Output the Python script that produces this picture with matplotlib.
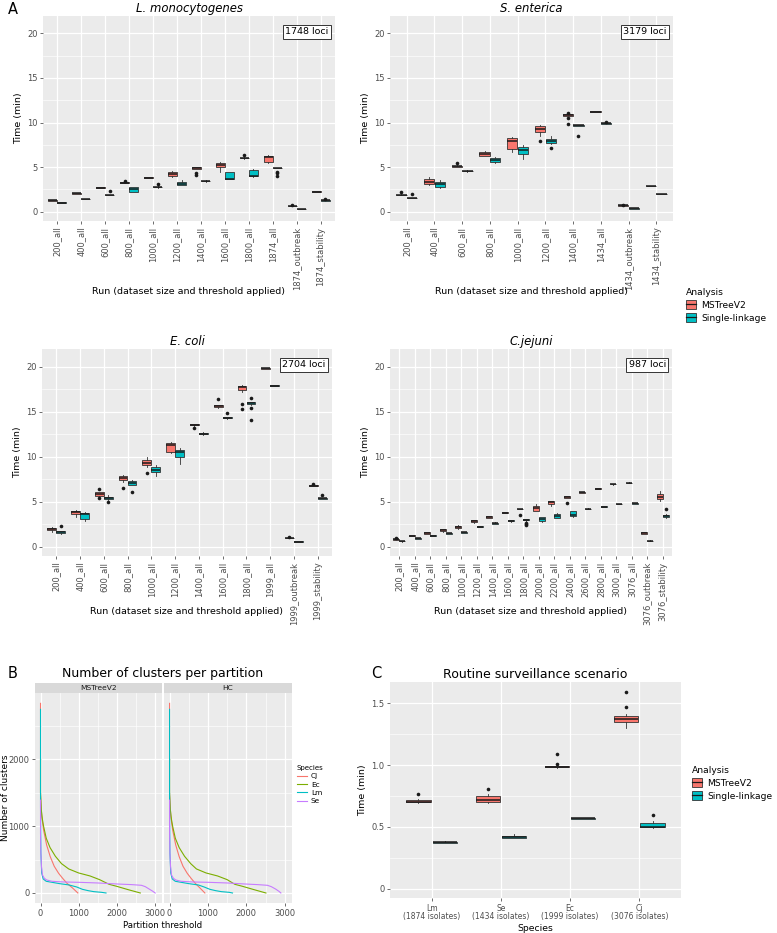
import numpy as np
import matplotlib.pyplot as plt
from matplotlib.patches import Patch
from matplotlib.lines import Line2D
from matplotlib.legend_handler import HandlerTuple

# ---- data ----
# box tuples are (whisker low, q1, median, q3, whisker high), times in minutes

lm_runs = ["200_all", "400_all", "600_all", "800_all", "1000_all", "1200_all", "1400_all",
           "1600_all", "1800_all", "1874_all", "1874_outbreak", "1874_stability"]
lm_mst = [(1.22, 1.23, 1.27, 1.31, 1.33), (2.0, 2.02, 2.06, 2.10, 2.12), (2.63, 2.65, 2.69, 2.73, 2.75),
          (3.18, 3.20, 3.25, 3.29, 3.31), (3.76, 3.77, 3.81, 3.85, 3.87), (3.85, 4.04, 4.22, 4.41, 4.60),
          (4.78, 4.82, 4.90, 4.96, 5.0), (4.49, 4.97, 5.23, 5.46, 5.55), (5.96, 5.98, 6.02, 6.06, 6.10),
          (5.45, 5.55, 6.15, 6.24, 6.30), (0.60, 0.61, 0.64, 0.67, 0.69), (2.20, 2.21, 2.24, 2.27, 2.29)]
lm_mst_out = [[], [], [], [3.42], [], [], [4.37, 4.15], [], [6.32], [], [0.76], []]
lm_sl = [(0.97, 0.98, 1.01, 1.04, 1.05), (1.38, 1.39, 1.42, 1.45, 1.47), (1.83, 1.84, 1.87, 1.90, 1.92),
         (2.20, 2.24, 2.54, 2.73, 2.78), (2.70, 2.73, 2.77, 2.82, 2.90), (2.95, 2.95, 3.14, 3.33, 3.55),
         (3.38, 3.40, 3.44, 3.48, 3.52), (3.63, 3.65, 3.70, 4.41, 4.45), (3.93, 3.95, 4.04, 4.67, 4.82),
         (4.86, 4.87, 4.90, 4.93, 4.95), (0.27, 0.28, 0.30, 0.33, 0.34), (1.23, 1.24, 1.27, 1.30, 1.32)]
lm_sl_out = [[], [], [2.32], [], [3.14], [], [], [], [], [4.5, 4.3, 4.05], [], [1.42]]

se_runs = ["200_all", "400_all", "600_all", "800_all", "1000_all", "1200_all", "1400_all",
           "1434_all", "1434_outbreak", "1434_stability"]
se_mst = [(1.82, 1.84, 1.87, 1.91, 1.93), (3.0, 3.07, 3.36, 3.63, 3.85), (5.0, 5.03, 5.08, 5.13, 5.18),
          (6.2, 6.28, 6.5, 6.69, 6.75), (6.65, 6.99, 7.93, 8.22, 8.4), (8.5, 8.97, 9.31, 9.6, 9.75),
          (10.7, 10.78, 10.84, 10.92, 11.0), (11.16, 11.17, 11.21, 11.25, 11.26),
          (0.66, 0.67, 0.71, 0.75, 0.76), (2.84, 2.85, 2.88, 2.91, 2.92)]
se_mst_out = [[2.24], [], [5.46], [], [], [7.96], [11.05, 10.55, 9.79], [], [0.8], []]
se_sl = [(1.48, 1.49, 1.53, 1.57, 1.58), (2.65, 2.73, 3.07, 3.36, 3.5), (4.5, 4.52, 4.56, 4.6, 4.64),
         (5.5, 5.57, 5.79, 6.06, 6.1), (5.87, 6.47, 6.88, 7.29, 7.45), (7.55, 7.74, 7.93, 8.15, 8.45),
         (9.62, 9.64, 9.68, 9.72, 9.74), (9.86, 9.87, 9.9, 9.93, 9.95),
         (0.33, 0.34, 0.37, 0.40, 0.41), (1.94, 1.95, 1.98, 2.01, 2.02)]
se_sl_out = [[1.94], [], [], [], [], [7.1], [8.49], [10.02], [], []]

ec_runs = ["200_all", "400_all", "600_all", "800_all", "1000_all", "1200_all", "1400_all",
           "1600_all", "1800_all", "1999_all", "1999_outbreak", "1999_stability"]
ec_mst = [(1.6, 1.84, 1.95, 2.1, 2.2), (3.26, 3.63, 3.82, 4.0, 4.1), (5.5, 5.66, 5.88, 6.03, 6.1),
          (7.2, 7.34, 7.57, 7.87, 7.95), (8.8, 9.03, 9.33, 9.63, 9.9), (10.4, 10.56, 11.27, 11.5, 11.65),
          (13.4, 13.45, 13.52, 13.58, 13.6), (15.45, 15.5, 15.62, 15.7, 15.75), (17.2, 17.34, 17.75, 17.83, 18.0),
          (19.77, 19.78, 19.81, 19.84, 19.85), (0.93, 0.94, 0.97, 1.0, 1.01), (6.74, 6.75, 6.78, 6.81, 6.82)]
ec_mst_out = [[], [], [6.4, 5.36], [6.55], [8.13], [], [13.15], [16.37], [15.8, 15.24], [], [1.09], [6.9]]
ec_sl = [(1.45, 1.55, 1.65, 1.7, 1.75), (2.8, 3.07, 3.63, 3.7, 3.86), (5.2, 5.28, 5.39, 5.5, 5.7),
         (6.8, 6.85, 7.08, 7.3, 7.4), (7.87, 8.28, 8.5, 8.88, 9.08), (9.18, 10.0, 10.45, 10.75, 11.0),
         (12.4, 12.47, 12.55, 12.62, 12.7), (14.22, 14.25, 14.31, 14.4, 14.45), (15.75, 15.84, 15.95, 16.03, 16.1),
         (17.83, 17.84, 17.87, 17.9, 17.91), (0.52, 0.53, 0.56, 0.59, 0.6), (5.32, 5.33, 5.36, 5.39, 5.4)]
ec_sl_out = [[2.28], [], [4.94], [6.07], [], [], [], [14.8], [16.55, 15.43, 14.04], [], [], [5.73]]

cj_runs = ["200_all", "400_all", "600_all", "800_all", "1000_all", "1200_all", "1400_all", "1600_all",
           "1800_all", "2000_all", "2200_all", "2400_all", "2600_all", "2800_all", "3000_all",
           "3076_all", "3076_outbreak", "3076_stability"]
cj_mst = [(0.76, 0.78, 0.82, 0.86, 0.88), (1.16, 1.17, 1.2, 1.23, 1.24), (1.35, 1.39, 1.54, 1.61, 1.62),
          (1.62, 1.69, 1.84, 1.91, 1.93), (1.98, 2.02, 2.17, 2.32, 2.36), (2.58, 2.73, 2.88, 2.92, 2.95),
          (3.15, 3.22, 3.3, 3.34, 3.36), (3.74, 3.75, 3.78, 3.81, 3.82), (4.12, 4.13, 4.16, 4.19, 4.2),
          (4.0, 4.0, 4.27, 4.53, 4.72), (4.5, 4.72, 4.9, 5.06, 5.1), (5.38, 5.4, 5.5, 5.58, 5.62),
          (5.99, 6.0, 6.03, 6.06, 6.07), (6.4, 6.41, 6.44, 6.47, 6.48), (6.89, 6.9, 6.93, 6.96, 6.97),
          (7.04, 7.05, 7.08, 7.11, 7.12), (1.4, 1.45, 1.54, 1.58, 1.62), (5.1, 5.24, 5.54, 5.8, 6.18)]
cj_mst_out = [[0.94], [], [], [], [], [], [], [], [3.52], [], [], [4.79], [], [], [], [], [], []]
cj_sl = [(0.56, 0.57, 0.6, 0.63, 0.64), (0.86, 0.87, 0.9, 0.93, 0.94), (1.16, 1.17, 1.2, 1.23, 1.24),
         (1.42, 1.43, 1.46, 1.49, 1.5), (1.5, 1.53, 1.57, 1.6, 1.62), (2.17, 2.18, 2.21, 2.24, 2.25),
         (2.5, 2.54, 2.58, 2.66, 2.7), (2.78, 2.8, 2.85, 2.93, 2.98), (2.7, 2.95, 3.0, 3.05, 3.07),
         (2.75, 2.81, 3.03, 3.26, 3.3), (3.15, 3.22, 3.45, 3.67, 3.7), (3.33, 3.45, 3.56, 3.93, 3.98),
         (4.16, 4.17, 4.19, 4.22, 4.23), (4.39, 4.4, 4.42, 4.45, 4.46), (4.69, 4.7, 4.72, 4.75, 4.76),
         (4.76, 4.77, 4.79, 4.82, 4.83), (0.57, 0.58, 0.6, 0.63, 0.7), (3.2, 3.26, 3.41, 3.56, 3.6)]
cj_sl_out = [[], [], [], [], [], [], [], [], [2.6, 2.48, 2.43], [], [], [], [], [], [], [], [], [4.12]]

loci = {"Lm": "1748 loci", "Se": "3179 loci", "Ec": "2704 loci", "Cj": "987 loci"}

# panel B: number of clusters vs partition threshold
species = ["Cj", "Ec", "Lm", "Se"]
species_colors = ["#F8766D", "#7CAE00", "#00BFC4", "#C77CFF"]
cj_mst_x = [0, 0, 30, 80, 160, 255, 360, 475, 580, 695, 850, 980]
cj_mst_y = [2840, 1500, 1150, 945, 720, 545, 400, 295, 220, 145, 70, 0]
ec_mst_x = [0, 0, 20, 50, 80, 150, 250, 390, 550, 740, 1000, 1300, 1550, 1800, 2000, 2300, 2620]
ec_mst_y = [1999, 1500, 1250, 1100, 1000, 820, 680, 550, 440, 360, 300, 255, 200, 130, 100, 50, 0]
lm_mst_x = [0, 0, 10, 30, 70, 150, 300, 500, 750, 950, 1100, 1250, 1400, 1600, 1720]
lm_mst_y = [2750, 1300, 600, 300, 210, 175, 160, 140, 120, 90, 55, 35, 20, 10, 0]
se_mst_x = [0, 0, 10, 25, 50, 100, 160, 300, 600, 1000, 1500, 2000, 2400, 2650, 2750, 2850, 2950, 3010]
se_mst_y = [1390, 900, 600, 400, 270, 220, 195, 175, 165, 160, 150, 135, 125, 115, 95, 60, 25, 0]
cj_hc_x = [0, 0, 30, 80, 160, 250, 350, 460, 560, 670, 800, 920]
cj_hc_y = [2840, 1500, 1150, 945, 720, 545, 400, 295, 220, 145, 70, 0]
ec_hc_x = [0, 0, 20, 50, 80, 150, 250, 390, 550, 700, 950, 1250, 1500, 1700, 1900, 2200, 2510]
ec_hc_y = [1999, 1500, 1250, 1100, 1000, 820, 680, 550, 440, 360, 300, 255, 200, 130, 100, 50, 0]
lm_hc_x = [0, 0, 10, 30, 70, 150, 300, 500, 750, 900, 1050, 1200, 1350, 1550, 1640]
lm_hc_y = [2750, 1300, 600, 300, 210, 175, 160, 140, 120, 90, 55, 35, 20, 10, 0]
se_hc_x = [0, 0, 10, 25, 50, 100, 160, 300, 600, 1000, 1500, 1950, 2300, 2550, 2650, 2760, 2850, 2900]
se_hc_y = [1390, 900, 600, 400, 270, 220, 195, 175, 165, 160, 150, 135, 125, 115, 95, 60, 25, 0]

# panel C: routine surveillance scenario
rs_labels = ["Lm\n(1874 isolates)", "Se\n(1434 isolates)", "Ec\n(1999 isolates)", "Cj\n(3076 isolates)"]
rs_mst = [(0.69, 0.70, 0.705, 0.72, 0.725), (0.69, 0.70, 0.72, 0.75, 0.77),
          (0.98, 0.982, 0.986, 0.99, 0.992), (1.30, 1.35, 1.37, 1.395, 1.41)]
rs_mst_out = [[0.763], [0.81], [1.01, 1.09], [1.47, 1.59]]
rs_sl = [(0.37, 0.372, 0.377, 0.382, 0.385), (0.41, 0.415, 0.42, 0.43, 0.445),
         (0.565, 0.567, 0.57, 0.573, 0.575), (0.49, 0.497, 0.50, 0.53, 0.55)]
rs_sl_out = [[], [], [], [0.60]]

MST_COLOR = "#F8766D"
SL_COLOR = "#00BFC4"
W, H = 777, 933


def rect(left, top, right, bottom):
    return [left / W, 1 - bottom / H, (right - left) / W, (bottom - top) / H]


def gg_style(ax, labelsize=6):
    ax.set_facecolor("#EBEBEB")
    for s in ax.spines.values():
        s.set_visible(False)
    ax.grid(which="major", color="white", lw=0.9)
    ax.grid(which="minor", color="white", lw=0.45)
    ax.set_axisbelow(True)
    ax.tick_params(which="major", color="#333333", labelcolor="#4D4D4D", length=2.5, width=0.5,
                   labelsize=labelsize, pad=1.5)
    ax.tick_params(which="minor", length=0)


def draw_boxes(ax, boxes, outliers, offset, color, width=0.37):
    stats = []
    for (lo, q1, med, q3, hi), fl in zip(boxes, outliers):
        stats.append(dict(whislo=lo, q1=q1, med=med, q3=q3, whishi=hi, fliers=fl))
    pos = np.arange(1, len(boxes) + 1) + offset
    ax.bxp(stats, positions=pos, widths=width, patch_artist=True, showcaps=False, manage_ticks=False,
           boxprops=dict(facecolor=color, edgecolor="#333333", linewidth=0.6),
           medianprops=dict(color="#1A1A1A", linewidth=1.1),
           whiskerprops=dict(color="#333333", linewidth=0.6),
           flierprops=dict(marker="o", markerfacecolor="#1A1A1A", markeredgecolor="none", markersize=2.6))


def timing_panel(ax, title, runs, mst, mst_out, sl, sl_out, label):
    gg_style(ax)
    ax.set_xlim(0.4, len(runs) + 0.6)
    ax.set_ylim(-1.05, 21.95)
    ax.set_yticks([0, 5, 10, 15, 20])
    ax.set_yticks([2.5, 7.5, 12.5, 17.5], minor=True)
    ax.set_xticks(np.arange(1, len(runs) + 1))
    ax.set_xticklabels(runs, rotation=90)
    draw_boxes(ax, mst, mst_out, -0.19, MST_COLOR)
    draw_boxes(ax, sl, sl_out, 0.19, SL_COLOR)
    ax.set_title(title, fontsize=8.4, style="italic", pad=3.2)
    ax.set_ylabel("Time (min)", fontsize=6.8, labelpad=3)
    ax.text(0.978, 0.945, label, transform=ax.transAxes, ha="right", va="top", fontsize=6.8,
            bbox=dict(boxstyle="square,pad=0.25", facecolor="white", edgecolor="#333333", linewidth=0.7))


def box_legend(anchor):
    handles = []
    for col in [MST_COLOR, SL_COLOR]:
        handles.append((Patch(facecolor=col, edgecolor="#333333", linewidth=0.6),
                        Line2D([], [], color="#1A1A1A", lw=0.9)))
    leg = fig.legend(handles, ["MSTreeV2", "Single-linkage"], title="Analysis",
                     handler_map={tuple: HandlerTuple(ndivide=1, pad=0)},
                     loc="upper left", bbox_to_anchor=anchor, frameon=False,
                     fontsize=6.6, title_fontsize=6.6, alignment="left", handlelength=1.1, handleheight=1.2,
                     handletextpad=0.6, labelspacing=0.35, borderaxespad=0)
    return leg


fig = plt.figure(figsize=(W / 100, H / 100), dpi=100)

# ---- panel A ----
ax_lm = fig.add_axes(rect(43, 16, 335, 221))
timing_panel(ax_lm, "L. monocytogenes", lm_runs, lm_mst, lm_mst_out, lm_sl, lm_sl_out, loci["Lm"])
ax_se = fig.add_axes(rect(390, 16, 673, 221))
timing_panel(ax_se, "S. enterica", se_runs, se_mst, se_mst_out, se_sl, se_sl_out, loci["Se"])
ax_ec = fig.add_axes(rect(42, 349, 332, 556))
timing_panel(ax_ec, "E. coli", ec_runs, ec_mst, ec_mst_out, ec_sl, ec_sl_out, loci["Ec"])
ax_cj = fig.add_axes(rect(390, 349, 672, 556))
timing_panel(ax_cj, "C.jejuni", cj_runs, cj_mst, cj_mst_out, cj_sl, cj_sl_out, loci["Cj"])

for ax, yy in [(ax_lm, 291), (ax_se, 291), (ax_ec, 611), (ax_cj, 611)]:
    x0, _, w, _ = ax.get_position().bounds
    fig.text(x0 + w / 2, 1 - yy / H, "Run (dataset size and threshold applied)",
             ha="center", va="center", fontsize=6.8)

box_legend((682 / W, 1 - 284 / H))

# ---- panel B ----
b_data = {
    "MSTreeV2": [(cj_mst_x, cj_mst_y), (ec_mst_x, ec_mst_y), (lm_mst_x, lm_mst_y), (se_mst_x, se_mst_y)],
    "HC": [(cj_hc_x, cj_hc_y), (ec_hc_x, ec_hc_y), (lm_hc_x, lm_hc_y), (se_hc_x, se_hc_y)],
}
for i, (name, left, right) in enumerate([("MSTreeV2", 35, 162), ("HC", 164, 292)]):
    ax = fig.add_axes(rect(left, 693, right, 903))
    gg_style(ax, labelsize=6)
    ax.set_xlim(-145, 3190)
    ax.set_ylim(-150, 2995)
    ax.set_xticks([0, 1000, 2000, 3000])
    ax.set_xticks([500, 1500, 2500], minor=True)
    ax.set_yticks([0, 1000, 2000])
    ax.set_yticks([500, 1500, 2500], minor=True)
    for (xs, ys), col in zip(b_data[name], species_colors):
        ax.plot(xs, ys, color=col, lw=0.8)
    if i > 0:
        ax.tick_params(axis="y", labelleft=False, length=0)
    strip = fig.add_axes(rect(left, 683, right, 693))
    strip.set_facecolor("#D9D9D9")
    strip.set_xticks([])
    strip.set_yticks([])
    for s in strip.spines.values():
        s.set_visible(False)
    strip.text(0.5, 0.45, name, ha="center", va="center", fontsize=5.4, color="#1A1A1A")

fig.text(6 / W, 1 - 798 / H, "Number of clusters", rotation=90, ha="center", va="center", fontsize=6.5)
fig.text(163 / W, 1 - 677 / H, "Number of clusters per partition", ha="center", va="baseline", fontsize=9)
fig.text(163 / W, 1 - 926 / H, "Partition threshold", ha="center", va="center", fontsize=6.2)
fig.legend([Line2D([], [], color=c, lw=0.8) for c in species_colors], species, title="Species",
           loc="upper left", bbox_to_anchor=(294 / W, 1 - 762 / H), frameon=False,
           fontsize=5.3, title_fontsize=5.0, alignment="left", handlelength=1.4,
           handletextpad=0.5, labelspacing=0.3, borderaxespad=0)

# ---- panel C ----
ax_c = fig.add_axes(rect(390, 682, 681, 898))
gg_style(ax_c)
ax_c.set_xlim(0.4, 4.6)
ax_c.set_ylim(-0.073, 1.67)
ax_c.set_yticks([0, 0.5, 1.0, 1.5])
ax_c.set_yticklabels(["0", "0.5", "1.0", "1.5"])
ax_c.set_yticks([0.25, 0.75, 1.25], minor=True)
ax_c.set_xticks(np.arange(1, 5))
ax_c.set_xticklabels(rs_labels, fontsize=5.5, linespacing=0.9)
draw_boxes(ax_c, rs_mst, rs_mst_out, -0.19, MST_COLOR, width=0.35)
draw_boxes(ax_c, rs_sl, rs_sl_out, 0.19, SL_COLOR, width=0.35)
ax_c.set_title("Routine surveillance scenario", fontsize=9, pad=3)
ax_c.set_ylabel("Time (min)", fontsize=6.8, labelpad=3)
ax_c.set_xlabel("Species", fontsize=6.7, labelpad=2)
box_legend((688 / W, 1 - 762 / H))

# panel letters
fig.text(13 / W, 1 - 9 / H, "A", ha="center", va="center", fontsize=10.5)
fig.text(13 / W, 1 - 673 / H, "B", ha="center", va="center", fontsize=10.5)
fig.text(376 / W, 1 - 673 / H, "C", ha="center", va="center", fontsize=10.5)

fig.savefig("out.png", dpi=100)
